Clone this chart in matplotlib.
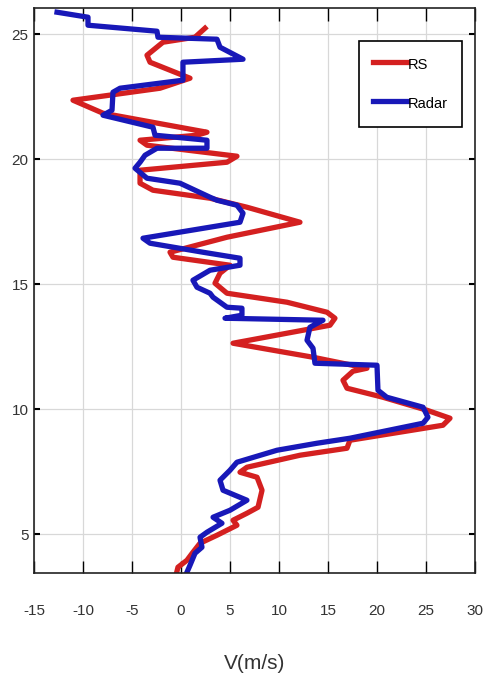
import numpy as np
import matplotlib
matplotlib.use('Agg')
import matplotlib.pyplot as plt

plt.rcParams['font.family'] = ['Liberation Sans', 'DejaVu Sans']
plt.rcParams['axes.unicode_minus'] = False

# radar profile (velocity m/s, height km)
radar_v = [-12.65, -9.49, -9.49, -2.45, -2.35, 3.67, 3.98, 6.33, 0.20, 0.20,
           -6.22, -6.94, -7.04, -7.96, -2.86, -2.65, 2.65, 2.65, -2.45, -3.67,
           -4.18, -4.69, -3.47, -0.10, 2.96, 3.67, 5.71, 6.33, 6.02, -3.88,
           -3.16, 2.24, 6.02, 6.02, 2.96, 1.22, 1.63, 2.96, 3.27, 4.69,
           6.22, 6.22, 4.49, 14.49, 13.16, 12.86, 13.47, 13.67, 20.0, 20.1,
           21.0, 24.7, 25.2, 24.7, 17.24, 13.88, 9.80, 5.71, 5.0, 3.98,
           4.29, 6.73, 5.0, 3.27, 4.18, 2.65, 1.94, 2.14, 1.43, 0.92, 0.61]
radar_h = [25.88, 25.68, 25.36, 25.12, 24.88, 24.80, 24.48, 24.00, 23.88, 23.16,
           22.84, 22.68, 21.96, 21.76, 21.28, 20.96, 20.76, 20.44, 20.44, 20.16,
           19.88, 19.64, 19.24, 19.04, 18.48, 18.36, 18.16, 17.84, 17.48, 16.84,
           16.64, 16.28, 16.04, 15.76, 15.56, 15.16, 14.88, 14.64, 14.48, 14.08,
           14.04, 13.76, 13.64, 13.56, 13.28, 12.76, 12.44, 11.84, 11.76, 10.76,
           10.48, 10.08, 9.68, 9.44, 8.84, 8.64, 8.36, 7.88, 7.56, 7.16,
           6.76, 6.36, 5.96, 5.68, 5.44, 5.08, 4.88, 4.48, 4.24, 3.76, 3.48]

# radiosonde profile
rs_v = [2.45, 1.43, -1.84, -3.47, -3.16, 0.92, -2.14, -11.02, -7.96, 2.65,
        1.63, -4.18, -3.47, 5.71, 4.69, -4.18, -4.18, -2.86, 2.96, 6.73,
        12.14, 4.69, -1.12, -0.82, 5.0, 3.98, 3.47, 4.69, 10.82, 14.9,
        15.71, 15.2, 5.31, 13.47, 18.98, 17.55, 16.53, 16.94, 20.6, 25.1,
        27.45, 26.73, 17.24, 16.94, 12.14, 6.73, 6.02, 7.76, 8.27, 7.86,
        6.73, 5.31, 5.71, 3.67, 1.94, 1.22, 0.61, -0.31, -0.41]
rs_h = [25.24, 24.88, 24.68, 24.16, 23.88, 23.24, 22.84, 22.36, 21.84, 21.08,
        20.96, 20.76, 20.56, 20.12, 19.88, 19.56, 19.04, 18.76, 18.44, 18.08,
        17.48, 16.88, 16.28, 16.08, 15.76, 15.44, 15.04, 14.64, 14.28, 13.88,
        13.64, 13.36, 12.64, 12.08, 11.64, 11.52, 11.16, 10.84, 10.48, 9.96,
        9.64, 9.36, 8.76, 8.44, 8.16, 7.68, 7.48, 7.28, 6.76, 6.08,
        5.84, 5.56, 5.36, 4.96, 4.64, 4.28, 3.96, 3.68, 3.52]

xticks = [-15, -10, -5, 0, 5, 10, 15, 20, 25, 30]
yticks = [5, 10, 15, 20, 25]

fig = plt.figure(figsize=(4.83, 6.81), dpi=100)
ax = fig.add_axes([0.0704, 0.1586, 0.913, 0.8297])

ax.plot(rs_v, rs_h, color='#d42020', lw=3.8, label='RS', solid_joinstyle='round')
ax.plot(radar_v, radar_h, color='#1818b8', lw=3.8, label='Radar', solid_joinstyle='round')

ax.set_xlim(-15, 30)
ax.set_ylim(3.45, 26.05)
ax.set_xticks(xticks)
ax.set_yticks(yticks)
ax.grid(True, color='#d8d8d8', lw=0.9)
ax.set_axisbelow(True)
ax.tick_params(axis='x', direction='in', length=9, width=1, top=True,
               labelsize=11, pad=22, labelcolor='#333333')
ax.tick_params(axis='y', direction='in', length=4, width=1.5, right=True,
               labelsize=11, pad=4, labelcolor='#333333')
for s in ax.spines.values():
    s.set_linewidth(1.2)
    s.set_color('#222222')

ax.set_xlabel('V(m/s)', fontsize=15, color='#333333', labelpad=26)

leg = ax.legend(loc='upper right', bbox_to_anchor=(0.9705, 0.9416), borderaxespad=0,
                fontsize=10.5, fancybox=False, edgecolor='black', framealpha=1,
                handlelength=2.3, handleheight=1.6, handletextpad=0.1,
                labelspacing=1.4, borderpad=0.95)
leg.get_frame().set_linewidth(1.2)

plt.savefig('out.png', dpi=100)
